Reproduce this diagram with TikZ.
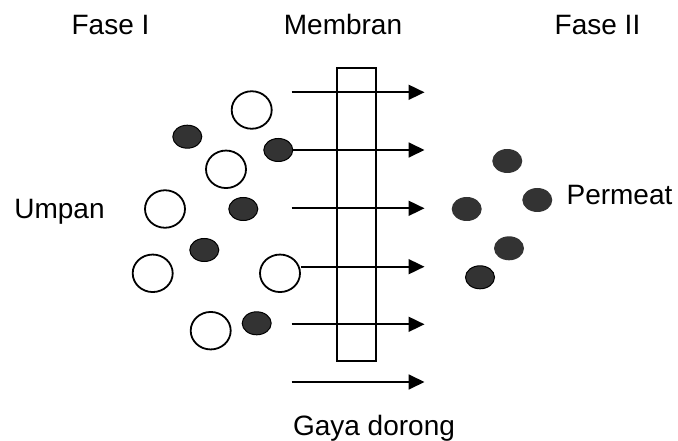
\documentclass[tikz,border=0pt]{standalone}
\usepackage{fontspec}
\setmainfont{Liberation Sans}
\usetikzlibrary{shapes.geometric,arrows.meta}
\definecolor{darkfill}{HTML}{333333}
\begin{document}
\begin{tikzpicture}[x=1bp,y=-1bp,
  lbl/.style={anchor=base,inner sep=0pt,font=\fontsize{28bp}{30bp}\selectfont},
  wball/.style={ellipse,draw=black,line width=1.8bp,fill=white,minimum width=40bp,minimum height=37.5bp,inner sep=0pt},
  dball/.style={ellipse,draw=black,line width=1bp,fill=darkfill,minimum width=29bp,minimum height=23bp,inner sep=0pt},
  pball/.style={ellipse,fill=darkfill,minimum width=30bp,minimum height=24bp,inner sep=0pt},
  flow/.style={line width=1.8bp,-{Triangle[length=16bp,width=15bp]}},
  mem/.style={draw=black,line width=1.5bp}]
\useasboundingbox (0,0) rectangle (678,441);
% labels
\node[lbl] (f1) at (110.5,34.5) {Fase I};
\node[lbl] (mb) at (343,34.5) {Membran};
\node[lbl] (f2) at (597.5,34.5) {Fase II};
\node[lbl] (up) at (59.5,219) {Umpan};
\node[lbl] (pm) at (619.5,204.5) {Permeat};
\node[lbl] (gd) at (374,435) {Gaya dorong};
% membrane
\draw[mem] (337,68) rectangle (376,361);
% feed particles
\node[wball] (w1) at (251.7,110) {};
\node[wball] (w2) at (226,169.3) {};
\node[wball] (w3) at (165,209) {};
\node[wball] (w4) at (152.7,273.3) {};
\node[wball] (w5) at (280,273.3) {};
\node[wball] (w6) at (210.7,330.7) {};
\node[dball] (d1) at (187.3,136.7) {};
\node[dball] (d2) at (278.3,150) {};
\node[dball] (d3) at (243.3,209) {};
\node[dball] (d4) at (204.3,250) {};
\node[dball] (d5) at (256.7,323.3) {};
% permeate particles
\node[pball] (p1) at (507.3,161) {};
\node[pball] (p2) at (537.3,200) {};
\node[pball] (p3) at (466.7,209) {};
\node[pball] (p4) at (509,248.3) {};
\node[dball] (p5) at (480,277.3) {};
% arrows
\coordinate (s1) at (291.5,92.3);
\coordinate (e1) at (424.5,92.3);
\coordinate (e2) at (424.5,150);
\coordinate (s3) at (291.5,208.3);
\coordinate (e3) at (424.5,208.3);
\coordinate (e4) at (424.5,266.7);
\coordinate (s5) at (291.5,324.3);
\coordinate (e5) at (424.5,324.3);
\coordinate (s6) at (291.5,382);
\coordinate (e6) at (424.5,382);
\draw[flow] (s1) -- (e1);
\draw[flow] (d2.east) -- (e2);
\draw[flow] (s3) -- (e3);
\draw[flow] (w5.east |- e4) -- (e4);
\draw[flow] (s5) -- (e5);
\draw[flow] (s6) -- (e6);
\end{tikzpicture}
\end{document}
